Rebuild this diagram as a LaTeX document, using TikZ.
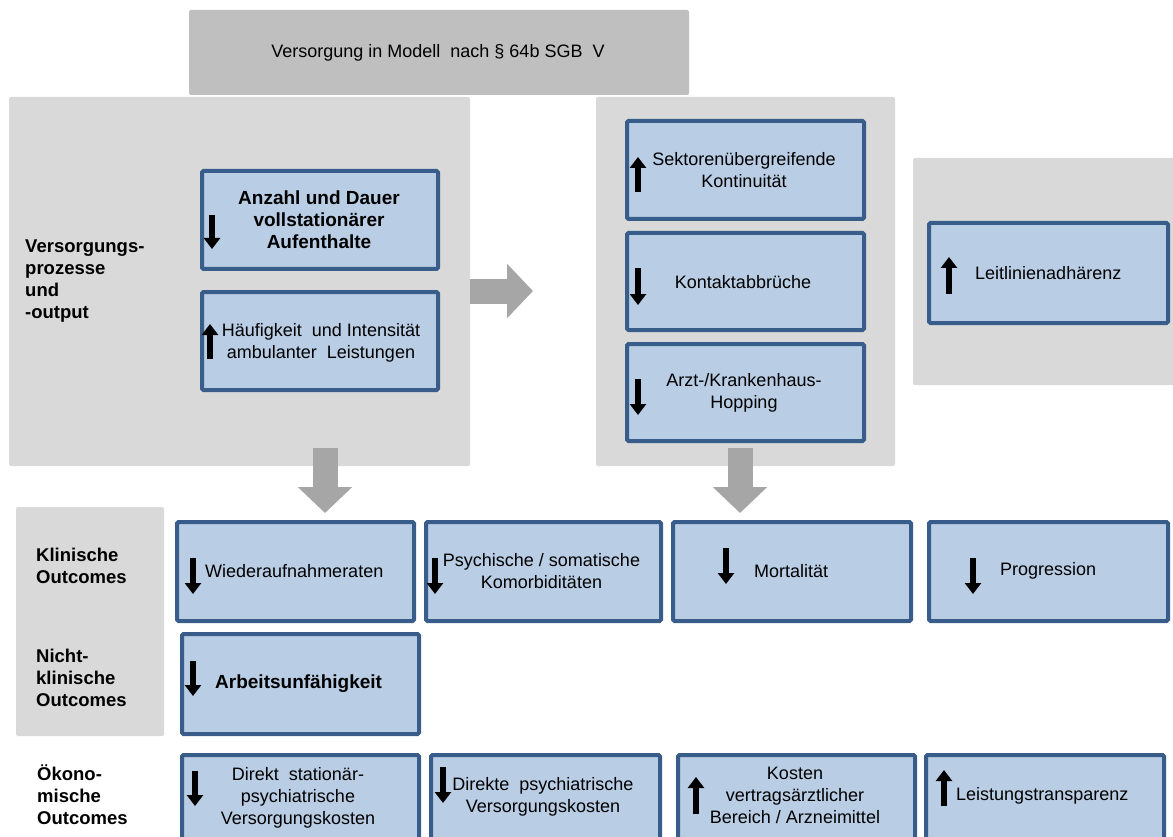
\documentclass[tikz,border=0pt]{standalone}
\usepackage{fontspec}
\setmainfont{Liberation Sans}
\usetikzlibrary{arrows.meta}
\definecolor{panelgray}{HTML}{D9D9D9}
\definecolor{titlegray}{HTML}{BFBFBF}
\definecolor{arrowgray}{HTML}{A6A6A6}
\definecolor{boxfill}{HTML}{B9CDE5}
\definecolor{boxline}{HTML}{395D8A}
\tikzset{
  panel/.style={fill=panelgray, draw=none, rounded corners=2pt, inner sep=0pt},
  bbox/.style={fill=boxfill, draw=boxline, line width=4pt, rounded corners=1.5pt, inner sep=0pt},
  txt/.style={font=\fontsize{18}{22}\selectfont, align=center, inner sep=0pt},
  btxt/.style={font=\fontsize{19}{22}\selectfont\bfseries, align=center, inner sep=0pt},
  lbl/.style={font=\fontsize{18.5}{22}\selectfont\bfseries, align=left, inner sep=0pt, anchor=west},
  iconarrow/.style={line width=6pt, -{Triangle[length=11pt,width=16pt]}},
  bigarrow/.style={draw=arrowgray, line width=25pt, -{Triangle[length=26pt,width=53pt]}}
}
\begin{document}
\begin{tikzpicture}[x=1pt,y=-1pt]
\useasboundingbox (0,0) rectangle (1173,837);
\clip (0,0) rectangle (1173,837);

% panels
\node[panel, fill=titlegray, minimum width=500pt, minimum height=85pt] (T) at (439,52.5) {};
\node[txt] (Tt) at (438,53) {Versorgung in Modell\ \ nach § 64b SGB\ \ V};
\node[panel, minimum width=461pt, minimum height=369pt] (LP) at (239.5,281.5) {};
\node[panel, minimum width=299pt, minimum height=369pt] (RP) at (745.5,281.5) {};
\node[panel, minimum width=270pt, minimum height=227pt] (FP) at (1048,271.5) {};
\node[panel, minimum width=148pt, minimum height=229pt] (OP) at (90,621.5) {};

% side labels
\node[lbl] (L1) at (25,281) {Versorgungs-\\prozesse\\und\\-output};
\node[lbl] (L2) at (36,566) {Klinische\\Outcomes};
\node[lbl] (L3) at (36,678) {Nicht-\\klinische\\Outcomes};
\node[lbl] (L4) at (37,795) {Ökono-\\mische\\Outcomes};

% process boxes
\node[bbox, minimum width=236pt, minimum height=98pt] (A) at (320,220) {};
\node[btxt] at (319,220) {Anzahl und Dauer\\vollstationärer\\Aufenthalte};
\draw[iconarrow] (212,215) -- (212,249);

\node[bbox, minimum width=236pt, minimum height=98pt] (B) at (320,341) {};
\node[txt] at (321,342.5) {Häufigkeit\ \ und Intensität\\ambulanter\ \ Leistungen};
\draw[iconarrow] (210,359) -- (210,324);

\node[bbox, minimum width=237pt, minimum height=98pt] (C) at (745.5,170) {};
\node[txt] at (744,170.5) {Sektorenübergreifende\\Kontinuität};
\draw[iconarrow] (638,192) -- (638,157);

\node[bbox, minimum width=237pt, minimum height=97pt] (D) at (745.5,281.5) {};
\node[txt] at (743,282) {Kontaktabbrüche};
\draw[iconarrow] (638,268) -- (638,305);

\node[bbox, minimum width=237pt, minimum height=97pt] (E) at (745.5,392.5) {};
\node[txt] at (744,392.5) {Arzt-/Krankenhaus-\\Hopping};
\draw[iconarrow] (638,379) -- (638,415);

\node[bbox, minimum width=239pt, minimum height=100pt] (F) at (1048.5,273) {};
\node[txt, anchor=west] at (975,273) {Leitlinienadhärenz};
\draw[iconarrow] (949,294) -- (949,257);

% clinical outcomes
\node[bbox, minimum width=237pt, minimum height=99pt] (W) at (295.5,571.5) {};
\node[txt, anchor=west] at (205,571) {Wiederaufnahmeraten};
\draw[iconarrow] (193,558) -- (193,594);

\node[bbox, minimum width=235pt, minimum height=99pt] (P) at (543.5,571.5) {};
\node[txt] at (541.5,571.5) {Psychische / somatische\\Komorbiditäten};
\draw[iconarrow] (435,558) -- (435,594);

\node[bbox, minimum width=238pt, minimum height=99pt] (M) at (792,571.5) {};
\node[txt, anchor=west] at (754,571) {Mortalität};
\draw[iconarrow] (726,548) -- (726,584);

\node[bbox, minimum width=239pt, minimum height=99pt] (G) at (1048.5,571.5) {};
\node[txt, anchor=west] at (1000,571) {Progression};
\draw[iconarrow] (973,558) -- (973,594);

% non-clinical
\node[bbox, minimum width=237pt, minimum height=100pt] (AU) at (300.5,684) {};
\node[btxt, anchor=west] at (215,684) {Arbeitsunfähigkeit};
\draw[iconarrow] (193,661) -- (193,696);

% economic
\node[bbox, minimum width=237pt, minimum height=103pt] (DS) at (300.5,806.5) {};
\node[txt] at (298,798) {Direkt\ \ stationär-\\psychiatrische\\Versorgungskosten};
\draw[iconarrow] (195,771) -- (195,806);

\node[bbox, minimum width=229pt, minimum height=103pt] (DP) at (545.5,806.5) {};
\node[txt] at (543,797) {Direkte\ \ psychiatrische\\Versorgungskosten};
\draw[iconarrow] (443,767) -- (443,803);

\node[bbox, minimum width=237pt, minimum height=103pt] (K) at (796.5,806.5) {};
\node[txt] at (795,795) {Kosten\\vertragsärztlicher\\Bereich / Arzneimittel};
\draw[iconarrow] (696,814) -- (696,777);

\node[bbox, minimum width=238pt, minimum height=103pt] (LT) at (1045,806.5) {};
\node[txt, anchor=west] at (956,796) {Leistungstransparenz};
\draw[iconarrow] (944,806) -- (944,770);

% big gray arrows
\coordinate (ra) at (533,291);
\draw[bigarrow] (LP.east |- ra) -- (ra);
\coordinate (dl) at (325,513);
\draw[bigarrow] ([yshift=18pt]LP.south -| dl) -- (dl);
\coordinate (dr) at (740,513);
\draw[bigarrow] ([yshift=18pt]RP.south -| dr) -- (dr);
\end{tikzpicture}
\end{document}
